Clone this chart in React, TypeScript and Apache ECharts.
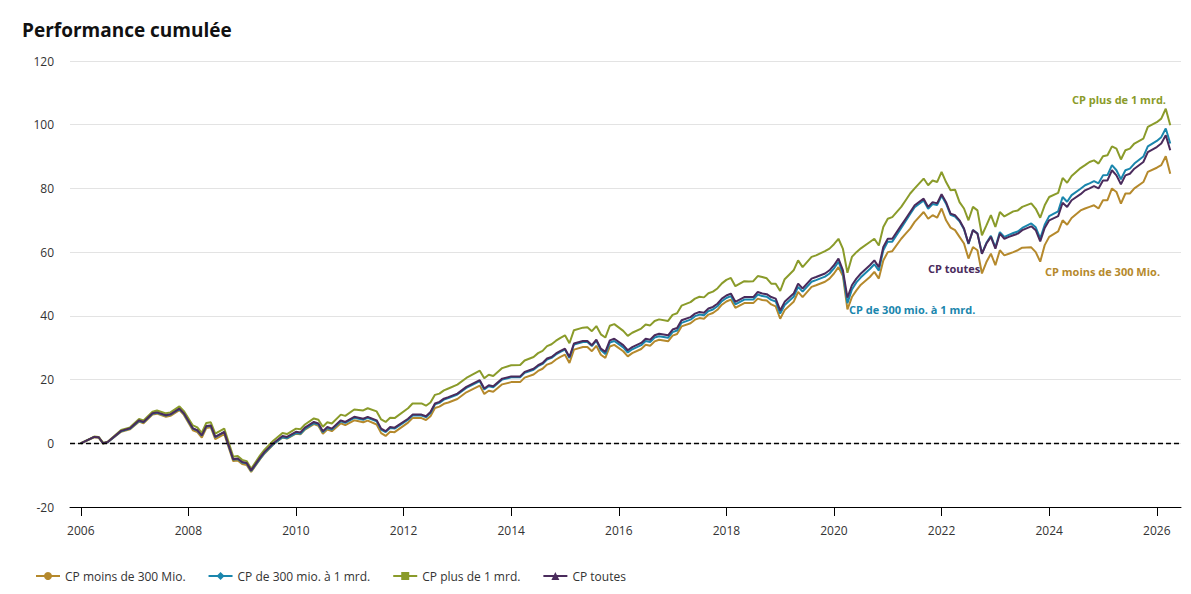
import React, { useEffect, useRef } from "react";
import * as echarts from "echarts";

// Monthly observation dates (YYYY-MM)
const dates = [
  "2006-01","2006-04","2006-05","2006-06","2006-07","2006-10","2006-12",
  "2007-02","2007-03","2007-05","2007-06","2007-08","2007-09","2007-11","2007-12",
  "2008-02","2008-03","2008-04","2008-05","2008-06","2008-07","2008-09","2008-11","2008-12",
  "2009-01","2009-02","2009-03","2009-05","2009-06","2009-08","2009-10","2009-11",
  "2010-01","2010-02","2010-03","2010-05","2010-06","2010-07","2010-08","2010-09","2010-11","2010-12",
  "2011-02","2011-04","2011-05","2011-07","2011-08","2011-09","2011-10","2011-11",
  "2012-02","2012-03","2012-05","2012-06","2012-07","2012-08","2012-09","2012-10","2012-11",
  "2013-01","2013-03","2013-06","2013-07","2013-08","2013-09","2013-11",
  "2014-01","2014-03","2014-04","2014-06","2014-07","2014-08","2014-09","2014-10","2014-11","2014-12",
  "2015-01","2015-02","2015-03","2015-05","2015-06","2015-07","2015-08","2015-09","2015-10","2015-11","2015-12",
  "2016-02","2016-03","2016-04","2016-06","2016-07","2016-08","2016-09","2016-10","2016-12",
  "2017-01","2017-02","2017-03","2017-05","2017-06","2017-07","2017-08","2017-09","2017-10","2017-11","2017-12",
  "2018-01","2018-02","2018-03","2018-05","2018-06","2018-07","2018-08","2018-09","2018-10","2018-11","2018-12",
  "2019-01","2019-02","2019-04","2019-05","2019-06","2019-08","2019-09","2019-11","2019-12",
  "2020-01","2020-02","2020-03","2020-04","2020-05","2020-06","2020-07","2020-09","2020-10","2020-11","2020-12",
  "2021-01","2021-02","2021-04","2021-05","2021-06","2021-07","2021-09","2021-10","2021-11","2021-12",
  "2022-01","2022-02","2022-03","2022-04","2022-05","2022-06","2022-07","2022-08","2022-09","2022-10","2022-11","2022-12",
  "2023-01","2023-02","2023-03","2023-04","2023-05","2023-06","2023-07","2023-09","2023-10","2023-11","2023-12",
  "2024-01","2024-03","2024-04","2024-05","2024-06","2024-08","2024-09","2024-10","2024-11","2024-12",
  "2025-01","2025-02","2025-03","2025-04","2025-05","2025-06","2025-07","2025-08","2025-10","2025-11",
  "2026-01","2026-02","2026-03","2026-04",
];

// CP moins de 300 Mio.
const smallCaps = [
  0.0, 1.9, 1.7, -0.1, 0.3, 3.6, 4.4,
  6.8, 6.3, 9.0, 9.3, 8.3, 8.6, 10.4, 8.9,
  4.1, 3.5, 1.8, 4.8, 5.0, 1.3, 2.9, -5.6, -5.4,
  -6.5, -6.8, -9.0, -5.0, -3.2, -0.3, 1.8, 1.5,
  3.0, 2.8, 4.3, 6.0, 5.5, 3.0, 4.3, 3.8, 6.3, 5.7,
  7.2, 6.6, 7.1, 5.9, 3.2, 2.3, 3.6, 3.5,
  6.5, 7.9, 7.9, 7.3, 8.5, 11.1, 11.5, 12.4, 12.8,
  13.9, 16.0, 18.1, 15.5, 16.5, 16.2, 18.5,
  19.2, 19.2, 20.6, 21.6, 22.7, 23.4, 24.7, 25.2, 26.3, 27.1,
  27.8, 25.2, 29.4, 30.2, 30.2, 28.9, 30.6, 27.8, 26.8, 30.4, 30.9,
  28.9, 27.3, 28.3, 29.6, 30.9, 30.6, 32.0, 32.5, 32.0,
  33.8, 34.3, 36.7, 37.7, 38.8, 39.3, 39.1, 40.4, 40.9, 41.9, 43.5,
  44.5, 45.1, 42.5, 44.0, 44.0, 44.0, 45.4, 45.0, 44.8, 43.6, 43.0,
  39.1, 41.8, 44.4, 47.5, 45.9, 49.1, 49.6, 50.7, 51.7,
  53.3, 55.3, 52.5, 42.0, 45.9, 48.0, 49.8, 52.2, 53.8, 51.7, 57.4,
  60.0, 60.3, 64.2, 65.8, 67.4, 69.5, 72.6, 70.5, 71.6, 70.8,
  73.7, 70.0, 67.7, 66.9, 64.8, 62.7, 58.0, 61.6, 60.6, 53.3, 56.9, 59.5,
  55.9, 60.6, 59.0, 59.5, 60.0, 60.6, 61.4, 61.5, 60.0, 57.0, 62.2,
  64.8, 66.5, 70.0, 68.6, 70.7, 73.1, 73.7, 74.2, 74.7, 73.7,
  76.3, 76.3, 80.0, 78.9, 75.2, 78.4, 78.4, 80.0, 82.0, 85.2,
  86.5, 87.3, 90.1, 84.6,
];

// CP de 300 mio. à 1 mrd.
const midCaps = [
  0.0, 2.0, 1.9, 0.0, 0.3, 3.8, 4.6,
  7.0, 6.6, 9.3, 9.6, 8.7, 9.0, 10.8, 9.3,
  4.6, 4.0, 2.4, 5.3, 5.5, 1.9, 3.5, -5.1, -4.9,
  -6.0, -6.3, -8.7, -4.8, -3.0, -0.2, 1.9, 1.6,
  3.2, 3.0, 4.5, 6.3, 5.9, 3.5, 4.8, 4.3, 6.9, 6.4,
  8.0, 7.4, 8.0, 6.9, 4.3, 3.5, 4.8, 4.6,
  7.4, 8.7, 8.7, 8.2, 9.5, 12.2, 12.7, 13.7, 14.2,
  15.3, 17.4, 19.5, 16.9, 17.9, 17.6, 20.0,
  20.7, 20.7, 22.1, 23.1, 24.2, 24.9, 26.3, 26.8, 27.9, 28.7,
  29.4, 26.8, 31.0, 31.8, 31.8, 30.5, 32.2, 29.3, 28.0, 31.6, 32.1,
  30.1, 28.5, 29.5, 30.8, 32.1, 31.8, 33.2, 33.6, 33.1,
  34.9, 35.4, 37.8, 38.8, 39.9, 40.4, 40.2, 41.5, 42.0, 43.0, 44.6,
  45.6, 46.2, 43.6, 45.1, 45.1, 45.1, 46.7, 46.2, 46.0, 45.0, 44.5,
  40.7, 43.4, 46.0, 49.1, 47.6, 50.7, 51.2, 52.3, 53.3,
  54.9, 57.0, 53.3, 44.0, 48.3, 50.5, 52.1, 54.7, 56.2, 54.2, 60.6,
  63.3, 63.3, 67.6, 69.8, 72.0, 74.1, 76.2, 73.6, 75.1, 74.8,
  77.7, 75.2, 71.7, 71.2, 69.7, 67.2, 62.6, 66.9, 65.9, 59.6, 62.9, 65.1,
  61.5, 66.3, 64.8, 65.4, 66.0, 66.5, 67.6, 69.0, 67.8, 64.3, 68.6,
  71.3, 72.8, 77.3, 75.8, 77.9, 79.9, 81.0, 81.6, 82.3, 81.6,
  84.1, 84.2, 87.3, 85.7, 82.9, 85.7, 86.2, 87.8, 90.0, 93.2,
  94.9, 96.1, 98.8, 94.1,
];

// CP plus de 1 mrd.
const largeCaps = [
  0.0, 2.1, 2.0, 0.1, 0.5, 4.2, 5.0,
  7.6, 7.2, 9.9, 10.3, 9.4, 9.7, 11.6, 10.1,
  5.6, 5.0, 3.3, 6.4, 6.6, 3.0, 4.6, -4.2, -4.0,
  -5.2, -5.6, -8.0, -3.8, -2.0, 0.9, 3.2, 2.9,
  4.6, 4.4, 5.9, 7.8, 7.4, 5.2, 6.6, 6.2, 9.0, 8.6,
  10.6, 10.3, 11.0, 10.0, 7.5, 6.7, 8.0, 7.9,
  11.0, 12.5, 12.5, 11.8, 12.8, 15.2, 15.6, 16.6, 17.2,
  18.4, 20.5, 22.8, 20.4, 21.5, 21.1, 23.6,
  24.5, 24.6, 26.0, 27.1, 28.3, 29.0, 30.5, 31.1, 32.2, 33.1,
  33.9, 31.4, 35.5, 36.3, 36.4, 35.2, 36.8, 34.2, 33.2, 36.9, 37.4,
  35.3, 33.7, 34.7, 36.0, 37.3, 37.0, 38.4, 38.9, 38.4,
  40.3, 40.8, 43.2, 44.3, 45.4, 46.0, 45.8, 47.1, 47.6, 48.6, 50.2,
  51.3, 51.9, 49.3, 50.9, 50.8, 50.9, 52.5, 52.2, 51.8, 50.1, 50.1,
  47.8, 51.5, 54.3, 57.4, 55.3, 58.5, 59.0, 60.3, 61.1,
  62.5, 64.2, 61.0, 53.5, 58.5, 60.0, 61.2, 63.2, 64.2, 62.1, 67.9,
  70.5, 71.0, 74.2, 76.3, 78.4, 80.0, 83.1, 81.0, 82.5, 82.0,
  85.2, 82.0, 79.4, 79.6, 75.7, 73.7, 70.0, 74.2, 73.1, 65.3, 68.4, 71.6,
  67.9, 72.6, 71.2, 72.0, 72.8, 73.1, 74.2, 75.3, 73.6, 70.8, 74.7,
  77.3, 78.6, 83.3, 81.8, 83.9, 86.4, 87.3, 88.3, 88.8, 87.8,
  90.1, 90.4, 93.2, 92.5, 89.1, 92.0, 92.5, 94.1, 95.6, 99.3,
  100.8, 101.9, 105.0, 99.8,
];

// CP toutes
const allCaps = [
  0.0, 2.0, 1.9, 0.0, 0.4, 3.9, 4.7,
  7.2, 6.7, 9.4, 9.7, 8.8, 9.1, 10.9, 9.4,
  4.7, 4.1, 2.5, 5.4, 5.6, 2.0, 3.6, -5.0, -4.8,
  -5.9, -6.2, -8.5, -4.5, -2.7, 0.1, 2.3, 2.0,
  3.6, 3.4, 4.9, 6.7, 6.2, 3.8, 5.1, 4.6, 7.2, 6.7,
  8.3, 7.7, 8.3, 7.2, 4.6, 3.8, 5.1, 4.9,
  7.7, 9.0, 9.0, 8.5, 9.8, 12.5, 13.0, 14.0, 14.5,
  15.6, 17.7, 19.8, 17.2, 18.2, 17.9, 20.3,
  21.0, 21.0, 22.4, 23.4, 24.5, 25.2, 26.6, 27.1, 28.2, 29.0,
  29.7, 27.1, 31.3, 32.1, 32.1, 30.8, 32.5, 29.7, 28.7, 32.3, 32.8,
  30.8, 29.2, 30.2, 31.5, 32.8, 32.5, 33.9, 34.4, 33.9,
  35.7, 36.2, 38.6, 39.6, 40.7, 41.2, 41.0, 42.3, 42.8, 43.8, 45.4,
  46.4, 47.0, 44.4, 45.9, 45.9, 45.9, 47.5, 47.0, 46.8, 45.9, 45.4,
  41.7, 44.4, 47.0, 50.1, 48.6, 51.7, 52.2, 53.3, 54.3,
  55.9, 58.0, 54.3, 45.7, 49.6, 51.7, 53.3, 55.9, 57.4, 55.3, 61.6,
  64.2, 64.2, 68.4, 70.5, 72.6, 74.7, 76.8, 74.2, 75.7, 75.3,
  78.2, 75.7, 72.1, 71.6, 70.0, 67.4, 62.7, 66.9, 65.8, 59.5, 62.7, 64.8,
  61.1, 65.8, 64.2, 64.8, 65.3, 65.8, 66.9, 68.1, 66.9, 63.4, 67.6,
  70.0, 71.3, 75.5, 74.2, 76.3, 78.2, 79.4, 80.0, 80.7, 80.0,
  82.5, 82.5, 85.7, 84.1, 81.3, 84.1, 84.6, 86.2, 88.3, 91.4,
  93.0, 94.1, 96.7, 92.0,
];

const xTickYears = [2006, 2008, 2010, 2012, 2014, 2016, 2018, 2020, 2022, 2024, 2026];

const seriesNames = [
  "CP moins de 300 Mio.",
  "CP de 300 mio. à 1 mrd.",
  "CP plus de 1 mrd.",
  "CP toutes",
];
const seriesColors = ["#b5892c", "#1a86ad", "#8a9b2a", "#4a2b5c"];
const seriesSymbols = ["circle", "diamond", "rect", "triangle"];
const seriesValues = [smallCaps, midCaps, largeCaps, allCaps];

const FONT = "'Open Sans', 'Noto Sans', sans-serif";

function toYear(d: string): number {
  const [y, m] = d.split("-").map(Number);
  return y + (m - 1) / 12;
}

export default function App() {
  const ref = useRef<HTMLDivElement>(null);

  useEffect(() => {
    if (!ref.current) return;
    const chart = echarts.init(ref.current, null, { renderer: "svg" });

    const series: any[] = seriesValues.map((vals, i) => ({
      name: seriesNames[i],
      type: "line",
      data: dates.map((d, j) => [toYear(d), vals[j]]),
      symbol: seriesSymbols[i],
      symbolSize: 8,
      showSymbol: false,
      lineStyle: { width: 2, color: seriesColors[i] },
      itemStyle: { color: seriesColors[i] },
      color: seriesColors[i],
      z: 3 + i,
    }));
    series[0].markLine = {
      silent: true,
      symbol: "none",
      label: { show: false },
      lineStyle: { color: "#000", type: [5, 3], width: 1.3 },
      data: [{ yAxis: 0 }],
      z: 10,
    };

    const labelDefs = [
      { text: seriesNames[2], x: 1072, y: 99, color: seriesColors[2] },
      { text: seriesNames[3], x: 928, y: 268, color: seriesColors[3] },
      { text: seriesNames[0], x: 1045, y: 271, color: seriesColors[0] },
      { text: seriesNames[1], x: 849, y: 309, color: seriesColors[1] },
    ];

    chart.setOption({
      animation: false,
      backgroundColor: "#fff",
      title: {
        text: "Performance cumulée",
        left: 17,
        top: 15,
        textStyle: { fontSize: 19, fontWeight: "bold", color: "#111", fontFamily: FONT },
      },
      grid: { left: 70, right: 10, top: 61, bottom: 87, containLabel: false },
      xAxis: {
        type: "value",
        min: 2005.8,
        max: 2026.45,
        axisLine: { onZero: false, lineStyle: { color: "#000", width: 1 } },
        axisTick: { show: true, customValues: xTickYears, length: 9, lineStyle: { color: "#000" } },
        axisLabel: {
          customValues: xTickYears,
          formatter: (v: number) => String(Math.round(v)),
          color: "#333",
          fontSize: 12,
          margin: 17,
          fontFamily: FONT,
        },
        splitLine: { show: false },
      },
      yAxis: {
        type: "value",
        min: -20,
        max: 120,
        interval: 20,
        axisLine: { show: false },
        axisTick: { show: false },
        axisLabel: { color: "#333", fontSize: 12, margin: 16, fontFamily: FONT },
        splitLine: { lineStyle: { color: "#e3e3e3", width: 1 } },
      },
      legend: {
        left: 30,
        top: 565,
        itemWidth: 24,
        itemHeight: 10,
        itemGap: 22,
        textStyle: { fontSize: 12, color: "#333", fontFamily: FONT },
        data: seriesNames,
      },
      graphic: labelDefs.map((l) => ({
        type: "text",
        x: l.x,
        y: l.y,
        z: 100,
        style: {
          text: l.text,
          fill: l.color,
          font: `bold 11px ${FONT}`,
          align: "left",
          verticalAlign: "middle",
        },
      })),
      series,
    });

    return () => chart.dispose();
  }, []);

  return (
    <div
      ref={ref}
      style={{ position: "absolute", left: 0, top: 0, width: 1191, height: 594 }}
    />
  );
}
